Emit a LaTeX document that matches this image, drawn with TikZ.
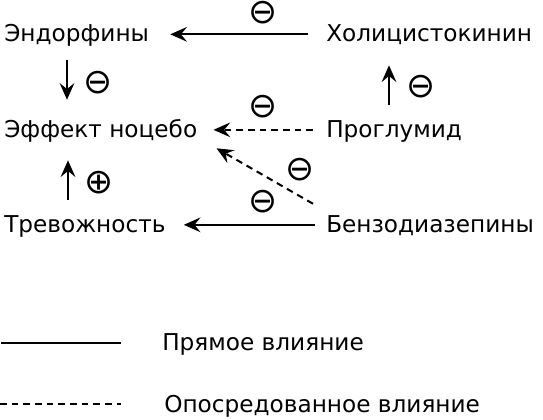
\documentclass[tikz,border=0pt]{standalone}
\usepackage{fontspec}
\setmainfont{DejaVu Sans}
\usetikzlibrary{arrows.meta,positioning}
\tikzstyle{every node}=[inner sep=0pt,font=\fontsize{17.4}{20}\selectfont]
\tikzstyle{word}=[anchor=base west,text height=15.5pt,text depth=4pt]
\tikzstyle{sign}=[font=\fontsize{26}{26}\selectfont]
\tikzstyle{every edge}=[->,line width=1.5pt,draw]
\tikzstyle{mediated}=[dash pattern=on 5pt off 3.75pt]

\begin{document}
\begin{tikzpicture}[x=0.75pt,y=-0.75pt,
        >={Stealth[length=12.5pt,width=11pt,inset=4.5pt]}]
        \useasboundingbox (0,0) rectangle (543,420);
        % Left column:
        \node (endo) [word] at (4,42) {Эндорфины};
        \node (noc) [word] at (4,137.5) {Эффект ноцебо};
        \node (trev) [word] at (4,232.5) {Тревожность};
        % Right column:
        \node (chol) [word] at (326,42) {Холицистокинин};
        \node (prog) [word] at (326,137.5) {Проглумид};
        \node (benz) [word] at (326,232.5) {Бензодиазепины};
        % Signs:
        \node (s_top) [sign] at (263,13) {⊖};
        \node (s_endo) [sign] at (98,83) {⊖};
        \node (s_prog) [sign] at (421,87) {⊖};
        \node (s_dash) [sign] at (263,107) {⊖};
        \node (s_diag) [sign] at (300,170) {⊖};
        \node (s_trev) [sign] at (99,183) {⊕};
        \node (s_bot) [sign] at (263,202) {⊖};
        % Legend:
        \coordinate (l_1a) at (1,343);
        \coordinate (l_1b) at (121,343);
        \coordinate (l_2a) at (0,404);
        \coordinate (l_2b) at (121,404);
        \node (t_direct) [word] at (162,351) {Прямое влияние};
        \node (t_mediated) [word] at (164,412) {Опосредованное влияние};

        \path[->]
        (chol.west) edge[shorten <=13.5pt,shorten >=15.75pt] (endo.east)
        ([xshift=47.25pt]endo.south west) edge[shorten <=9.5pt,shorten >=12.6pt] ([xshift=47.25pt]noc.north west)
        ([xshift=47.25pt]prog.north west) edge[shorten <=8.9pt,shorten >=13.3pt] ([xshift=47.25pt]chol.south west)
        ([xshift=48pt]trev.north west) edge[shorten <=8.9pt,shorten >=12.9pt] ([xshift=48pt]noc.south west)
        (benz.west) edge[shorten <=8.25pt,shorten >=13.5pt] (trev.east);

        \path[->,mediated]
        (prog.west) edge[shorten <=9.75pt,shorten >=12pt] (noc.east)
        ([xshift=-9.75pt,yshift=5.85pt]benz.north west) edge ([xshift=14.25pt,yshift=-3.9pt]noc.south east);

        \draw[line width=1.5pt] (l_1a) -- (l_1b);
        \draw[line width=1.5pt,mediated] (l_2a) -- (l_2b);
      \end{tikzpicture}
\end{document}
